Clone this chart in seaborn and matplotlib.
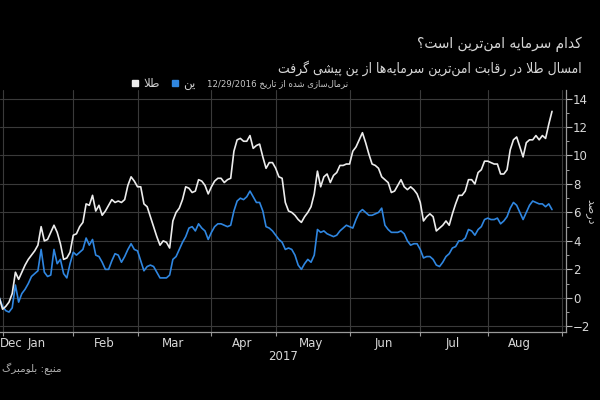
import re
import numpy as np
import pandas as pd
import seaborn as sns
import matplotlib.pyplot as plt
from matplotlib.lines import Line2D

# % change normalised from 12/29/2016, one value per trading day (Dec 29 .. Aug 29)
gold = [0.0, 0.0,
        -0.8, -0.6, -0.3, 0.3, 1.8, 1.3, 1.8, 2.3, 2.7, 3.0, 3.3, 3.7, 5.0, 4.0, 4.1, 4.6, 5.1, 4.6, 3.8, 2.7, 2.8, 3.2,
        4.4, 4.5, 5.0, 5.3, 6.6, 6.5, 7.2, 6.1, 6.5, 5.8, 6.1, 6.5, 6.9, 6.7, 6.8, 6.7, 6.9, 7.9, 8.5, 8.2,
        7.8, 7.8, 6.6, 6.4, 5.7, 5.0, 4.3, 3.7, 4.0, 3.9, 3.5, 5.4, 6.0, 6.3, 6.9, 7.8, 7.7, 7.4, 7.5, 8.3, 8.2, 7.9, 7.3,
        7.8, 8.2, 8.4, 8.4, 8.1, 8.3, 8.4, 10.3, 11.1, 11.2, 11.0, 11.0, 11.4, 10.5, 10.7, 10.8, 9.9, 9.1, 9.5, 9.5,
        9.1, 8.5, 8.4, 6.7, 6.1, 6.0, 5.8, 5.5, 5.3, 5.7, 6.0, 6.4, 7.3, 8.9, 7.8, 8.5, 8.7, 8.1, 8.6, 8.8, 9.3, 9.3, 9.4,
        9.4, 10.3, 10.6, 11.1, 11.6, 10.9, 10.1, 9.4, 9.3, 9.1, 8.5, 8.3, 8.1, 7.4, 7.5, 7.9, 8.3, 7.8, 7.6, 7.8, 7.6, 7.3,
        6.7, 5.4, 5.7, 5.9, 5.7, 4.7, 4.9, 5.1, 5.4, 5.1, 5.9, 6.6, 7.2, 7.2, 7.5, 8.3, 8.3, 8.0, 8.8, 9.0, 9.6,
        9.6, 9.5, 9.4, 9.4, 8.7, 8.7, 9.0, 10.4, 11.1, 11.3, 10.6, 9.9, 10.9, 11.1, 11.1, 11.4, 11.1, 11.4, 11.2, 12.2, 13.1]
yen = [0.0, 0.0,
       -0.6, -0.9, -1.0, -0.7, 0.9, -0.3, 0.3, 0.6, 1.0, 1.5, 1.7, 1.9, 3.4, 1.8, 1.5, 1.6, 3.4, 2.4, 2.7, 1.7, 1.4, 2.4,
       3.2, 3.0, 3.2, 3.4, 4.2, 3.7, 4.1, 3.0, 2.9, 2.5, 2.0, 2.0, 2.6, 3.1, 3.0, 2.5, 2.9, 3.4, 3.8, 3.4,
       3.3, 2.6, 1.9, 2.2, 2.3, 2.2, 1.8, 1.4, 1.4, 1.4, 1.6, 2.7, 2.9, 3.4, 3.9, 4.3, 4.9, 5.0, 4.7, 5.2, 4.9, 4.7, 4.1,
       4.6, 5.0, 5.2, 5.2, 5.1, 5.0, 5.1, 6.1, 6.8, 7.0, 6.9, 7.1, 7.5, 7.1, 6.7, 6.7, 6.1, 5.0, 4.9, 4.7,
       4.4, 4.1, 3.9, 3.4, 3.5, 3.4, 3.0, 2.3, 2.0, 2.4, 2.7, 2.5, 3.0, 4.8, 4.6, 4.7, 4.5, 4.4, 4.3, 4.4, 4.7, 4.9, 5.1,
       5.0, 4.9, 5.5, 6.0, 6.2, 6.0, 5.8, 5.8, 5.9, 6.0, 6.3, 5.1, 4.8, 4.6, 4.6, 4.6, 4.7, 4.5, 4.0, 3.7, 3.8, 3.8,
       3.4, 2.8, 2.9, 2.9, 2.7, 2.3, 2.2, 2.5, 2.9, 3.1, 3.5, 3.6, 4.0, 4.0, 4.2, 4.8, 4.7, 4.4, 4.8, 5.0, 5.5,
       5.6, 5.5, 5.5, 5.6, 5.2, 5.4, 5.7, 6.3, 6.7, 6.5, 6.0, 5.5, 6.0, 6.5, 6.8, 6.7, 6.6, 6.6, 6.4, 6.6, 6.2]
months = ['Dec', 'Jan', 'Feb', 'Mar', 'Apr', 'May', 'Jun', 'Jul', 'Aug']
y_ticks = [-2, 0, 2, 4, 6, 8, 10, 12, 14]

title = 'کدام سرمایه امن‌ترین است؟'
subtitle = 'امسال طلا در رقابت امن‌ترین سرمایه‌ها از ین پیشی گرفت'
note = 'نرمال‌سازی شده از تاریخ 12/29/2016'
gold_name = 'طلا'
yen_name = 'ین'
unit = 'درصد'
source = 'منبع: بلومبرگ'

# matplotlib has no arabic shaping, so pick presentation forms by hand
# (isolated, final, initial, medial)
FORMS = {
    '\u0627': ('\uFE8D', '\uFE8E', None, None),
    '\u0628': ('\uFE8F', '\uFE90', '\uFE91', '\uFE92'),
    '\u067E': ('\uFB56', '\uFB57', '\uFB58', '\uFB59'),
    '\u062A': ('\uFE95', '\uFE96', '\uFE97', '\uFE98'),
    '\u062E': ('\uFEA5', '\uFEA6', '\uFEA7', '\uFEA8'),
    '\u062F': ('\uFEA9', '\uFEAA', None, None),
    '\u0631': ('\uFEAD', '\uFEAE', None, None),
    '\u0632': ('\uFEAF', '\uFEB0', None, None),
    '\u0633': ('\uFEB1', '\uFEB2', '\uFEB3', '\uFEB4'),
    '\u0634': ('\uFEB5', '\uFEB6', '\uFEB7', '\uFEB8'),
    '\u0635': ('\uFEB9', '\uFEBA', '\uFEBB', '\uFEBC'),
    '\u0637': ('\uFEC1', '\uFEC2', '\uFEC3', '\uFEC4'),
    '\u0639': ('\uFEC9', '\uFECA', '\uFECB', '\uFECC'),
    '\u0641': ('\uFED1', '\uFED2', '\uFED3', '\uFED4'),
    '\u0642': ('\uFED5', '\uFED6', '\uFED7', '\uFED8'),
    '\u06A9': ('\uFB8E', '\uFB8F', '\uFB90', '\uFB91'),
    '\u06AF': ('\uFB92', '\uFB93', '\uFB94', '\uFB95'),
    '\u0644': ('\uFEDD', '\uFEDE', '\uFEDF', '\uFEE0'),
    '\u0645': ('\uFEE1', '\uFEE2', '\uFEE3', '\uFEE4'),
    '\u0646': ('\uFEE5', '\uFEE6', '\uFEE7', '\uFEE8'),
    '\u0647': ('\uFEE9', '\uFEEA', '\uFEEB', '\uFEEC'),
    '\u0648': ('\uFEED', '\uFEEE', None, None),
    '\u06CC': ('\uFBFC', '\uFBFD', '\uFBFE', '\uFBFF'),
}


def fa(s):
    s = s.replace('\u064A', '\u06CC').replace('\u0643', '\u06A9')
    out = []
    for k, ch in enumerate(s):
        if ch not in FORMS:
            out.append(ch)
            continue
        prev = s[k - 1] if k > 0 else ''
        nxt = s[k + 1] if k + 1 < len(s) else ''
        jp = prev in FORMS and FORMS[prev][2] is not None
        jn = nxt in FORMS and FORMS[ch][2] is not None
        iso, fin, ini, med = FORMS[ch]
        out.append(med if jp and jn else fin if jp else ini if jn else iso)
    t = ''.join(out)
    t = t.replace('\uFEDF\uFE8E', '\uFEFB').replace('\uFEE0\uFE8E', '\uFEFC')
    t = t.replace('\u200c', '')[::-1]
    return re.sub(r'[0-9/]+', lambda m: m.group(0)[::-1], t)


sns.set_style('dark', {'axes.facecolor': 'black', 'figure.facecolor': 'black'})
plt.rcParams['font.family'] = ['DejaVu Sans']

days = pd.bdate_range('2016-12-29', '2017-08-29')
n = len(days)
df = pd.DataFrame({'day': np.tile(np.arange(n), 2),
                   'value': gold + yen,
                   'series': ['gold'] * n + ['yen'] * n})

fig = plt.figure(figsize=(6, 4), dpi=100)
ax = fig.add_axes([0, 0.17, 0.9425, 0.605])
sns.lineplot(data=df, x='day', y='value', hue='series', hue_order=['yen', 'gold'],
             palette={'gold': '#ececec', 'yen': '#2f86e0'}, linewidth=1.2,
             legend=False, ax=ax)

x0, x1 = 1.2, 177.2
ax.set_xlim(x0, x1)
ax.set_ylim(-2.4, 14.6)

# month boundaries (trading-day axis) and month label positions
ext = pd.bdate_range('2016-12-29', '2017-09-05')
starts = [i for i in range(1, len(ext)) if ext[i].month != ext[i - 1].month]
mids = pd.Series(np.arange(n)).groupby(days.month).mean()
mids = [mids[m] for m in [12, 1, 2, 3, 4, 5, 6, 7, 8]]
mids[0] = x0 + 3.4
ax.set_xticks(starts)
ax.set_xticklabels([])
ax.set_xticks(mids, months, minor=True)
ax.tick_params(axis='x', which='major', bottom=True, length=3, color='#999999')
ax.tick_params(axis='x', which='minor', bottom=True, length=0, pad=3.5,
               labelsize=8.5, labelcolor='#d8d8d8')

ax.yaxis.tick_right()
ax.set_yticks(y_ticks)
ax.set_yticks(range(-2, 15), minor=True)
ax.tick_params(axis='y', which='both', left=False, labelleft=False, right=True, labelright=True,
               color='#bbbbbb', labelsize=8.5, labelcolor='#d8d8d8', pad=1.5)
ax.tick_params(axis='y', which='major', length=4)
ax.tick_params(axis='y', which='minor', length=2)

ax.grid(True, which='major', color='#3a3a3a', lw=0.8)
ax.set_xlabel('')
ax.set_ylabel('')
for side in ['left', 'top']:
    ax.spines[side].set_visible(False)
for side in ['right', 'bottom']:
    ax.spines[side].set_visible(True)
    ax.spines[side].set_color('#9a9a9a')
    ax.spines[side].set_linewidth(0.9)

fig.text(582 / 600, 1 - 44 / 400, fa(title), ha='right', va='center', fontsize=11,
         fontstretch='condensed', color='#d6d6d6')
fig.text(582 / 600, 1 - 68 / 400, fa(subtitle), ha='right', va='center', fontsize=10,
         fontstretch='condensed', color='#d6d6d6')
fig.text(348 / 600, 1 - 84 / 400, fa(note), ha='right', va='center', fontsize=6.8,
         fontstretch='condensed', color='#c8c8c8')

handles = [Line2D([], [], marker='s', ls='', color='#ececec', markersize=5),
           Line2D([], [], marker='s', ls='', color='#2f86e0', markersize=5)]
fig.legend(handles, [fa(gold_name), fa(yen_name)], loc='center right',
           bbox_to_anchor=(196 / 600, 1 - 84 / 400), ncol=2, frameon=False, fontsize=8.5,
           handlelength=0.7, handletextpad=0.4, columnspacing=0.9, labelcolor='#d0d0d0',
           borderpad=0, borderaxespad=0)

fig.text(590 / 600, 1 - 212 / 400, fa(unit), rotation=270, ha='center', va='center',
         fontsize=8, color='#c8c8c8')
fig.text(283 / 600, 1 - 357 / 400, '2017', ha='center', va='center', fontsize=8.5, color='#d8d8d8')
fig.text(2 / 600, 1 - 369 / 400, fa(source), ha='left', va='center', fontsize=7.5, color='#b0b0b0')

fig.savefig('out.png', dpi=100, facecolor='black')
